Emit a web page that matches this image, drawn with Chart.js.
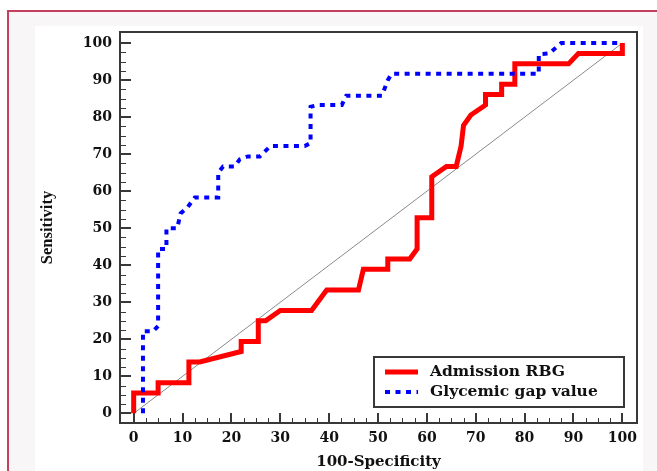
<!DOCTYPE html>
<html>
<head>
<meta charset="utf-8">
<script src="https://cdn.jsdelivr.net/npm/chart.js@4.4.1/dist/chart.umd.min.js"></script>
<style>
  html, body { margin: 0; padding: 0; background: #fff; }
  #page { position: relative; width: 657px; height: 471px; overflow: hidden; }
  #outer { position: absolute; left: 7px; top: 10px; width: 700px; height: 500px; border-left: 2px solid #c4405f; border-top: 2px solid #c4405f; background: #f8f6f7; }
  #inner { position: absolute; left: 35px; top: 26px; width: 608px; height: 460px; background: #fff; }
  #rocChart { position: absolute; left: 0; top: 0; }
</style>
</head>
<body>
<div id="page">
  <div id="outer"></div>
  <div id="inner"></div>
  <canvas id="rocChart" width="657" height="471"></canvas>
</div>
<script>
// ROC curves, values (100-Specificity vs Sensitivity)
const rbgX = [0, 0, 5, 5, 11.3, 11.3, 13.5, 22, 22, 25.5, 25.5, 27, 30, 36.4, 39.5, 46, 47, 52, 52, 56.5, 58, 58, 61, 61, 64, 66, 67, 67.5, 69, 72, 72, 75.3, 75.3, 78, 78, 89, 91, 100, 100];
const rbgY = [0, 5.5, 5.5, 8.3, 8.3, 13.9, 13.9, 16.7, 19.4, 19.4, 25, 25, 27.8, 27.8, 33.3, 33.3, 38.9, 38.9, 41.7, 41.7, 44.4, 52.8, 52.8, 63.9, 66.7, 66.7, 72.2, 77.8, 80.6, 83.3, 86.1, 86.1, 88.9, 88.9, 94.4, 94.4, 97.2, 97.2, 100];

const gapX = [1.9, 1.9, 4, 5, 5, 6.7, 6.7, 8.9, 9.6, 11, 12.5, 17.3, 17.3, 18.3, 20.7, 21.7, 23.4, 25.8, 28, 35, 36.2, 36.2, 37.8, 42.6, 43.5, 50.8, 52, 52.8, 82.9, 82.9, 85, 87.5, 100];
const gapY = [0, 22.2, 22.2, 23.6, 44.4, 44.4, 50, 50, 54, 55.6, 58.3, 58.3, 65, 66.7, 66.7, 68.6, 69.4, 69.4, 72.2, 72.2, 73, 82.8, 83.3, 83.3, 85.8, 85.8, 90, 91.7, 91.7, 97, 97.2, 100, 100];

const refX = [0, 100];
const refY = [0, 100];

const majorTicks = [0, 10, 20, 30, 40, 50, 60, 70, 80, 90, 100];
const minorPerMajor = 4;

const toPoints = (xs, ys) => xs.map((x, i) => ({ x: x, y: ys[i] }));

const allTicks = [];
majorTicks.forEach((v, i) => {
  allTicks.push(v);
  if (i < majorTicks.length - 1) {
    const step = (majorTicks[i + 1] - v) / minorPerMajor;
    for (let k = 1; k < minorPerMajor; k++) allTicks.push(v + step * k);
  }
});
const isMajor = v => majorTicks.includes(v);

const tickFont = { family: 'DejaVu Serif', size: 14, weight: 'bold' };

// frame + inward tick marks
const frameAndTicks = {
  id: 'frameAndTicks',
  afterDatasetsDraw(chart) {
    const { ctx, chartArea: a, scales } = chart;
    const xs = scales.x, ys = scales.y;
    ctx.save();
    ctx.strokeStyle = '#383838';
    ys.ticks.forEach(t => {
      const major = isMajor(t.value);
      ctx.lineWidth = major ? 2 : 1;
      const py = Math.round(ys.getPixelForValue(t.value)) + (major ? 0 : 0.5);
      ctx.beginPath();
      ctx.moveTo(a.left, py);
      ctx.lineTo(a.left + (major ? 11 : 6), py);
      ctx.stroke();
    });
    xs.ticks.forEach(t => {
      const major = isMajor(t.value);
      ctx.lineWidth = major ? 2 : 1;
      const px = Math.round(xs.getPixelForValue(t.value)) + (major ? 0 : 0.5);
      ctx.beginPath();
      ctx.moveTo(px, a.bottom);
      ctx.lineTo(px, a.bottom - (major ? 10 : 5));
      ctx.stroke();
    });
    ctx.lineWidth = 2;
    ctx.strokeRect(a.left, a.top, a.right - a.left, a.bottom - a.top);
    ctx.restore();
  }
};

// boxed legend in the lower right corner of the plot
const boxLegend = {
  id: 'boxLegend',
  afterDraw(chart) {
    const { ctx, chartArea: a } = chart;
    const items = chart.data.datasets.filter(d => d.inLegend);
    const w = 250, h = 50;
    const left = a.right - 13 - w, top = a.bottom - 16 - h;
    ctx.save();
    ctx.fillStyle = '#fff';
    ctx.fillRect(left, top, w, h);
    ctx.strokeStyle = '#383838';
    ctx.lineWidth = 2;
    ctx.strokeRect(left, top, w, h);
    items.forEach((d, i) => {
      const cy = top + 15 + i * 20;
      ctx.strokeStyle = d.borderColor;
      ctx.lineWidth = d.borderWidth;
      ctx.setLineDash(d.borderDash || []);
      ctx.beginPath();
      ctx.moveTo(left + 11, cy);
      ctx.lineTo(left + 44, cy);
      ctx.stroke();
      ctx.setLineDash([]);
      ctx.fillStyle = '#111';
      ctx.font = 'bold 15.5px "DejaVu Serif"';
      ctx.textBaseline = 'middle';
      ctx.textAlign = 'left';
      ctx.fillText(d.label, left + 56, cy);
    });
    ctx.restore();
  }
};

new Chart(document.getElementById('rocChart').getContext('2d'), {
  type: 'line',
  data: {
    datasets: [
      {
        label: 'Admission RBG',
        data: toPoints(rbgX, rbgY),
        borderColor: '#ff0000',
        borderWidth: 5,
        pointRadius: 0,
        tension: 0,
        order: 1,
        inLegend: true
      },
      {
        label: 'Glycemic gap value',
        data: toPoints(gapX, gapY),
        borderColor: '#0000ff',
        borderWidth: 4,
        borderDash: [5, 5.5],
        pointRadius: 0,
        tension: 0,
        order: 0,
        inLegend: true
      },
      {
        label: 'Reference',
        data: toPoints(refX, refY),
        borderColor: '#8a8a8a',
        borderWidth: 1,
        pointRadius: 0,
        order: 2
      }
    ]
  },
  options: {
    responsive: false,
    animation: false,
    layout: { padding: { top: 32, right: 20, left: 0, bottom: 0 } },
    plugins: { legend: { display: false }, tooltip: { enabled: false } },
    scales: {
      x: {
        type: 'linear',
        min: -2.8,
        max: 103,
        afterBuildTicks: scale => { scale.ticks = allTicks.map(v => ({ value: v })); },
        afterFit: scale => { scale.height = 48; },
        grid: { display: false, drawTicks: false },
        border: { display: false },
        ticks: {
          autoSkip: false,
          maxRotation: 0,
          padding: 7,
          color: '#111',
          font: tickFont,
          callback: v => isMajor(v) ? String(v) : ''
        },
        title: {
          display: true,
          text: '100-Specificity',
          color: '#111',
          font: { family: 'DejaVu Serif', size: 15, weight: 'bold' },
          padding: { top: 0, bottom: 0 }
        }
      },
      y: {
        type: 'linear',
        min: -2.6,
        max: 103,
        afterBuildTicks: scale => { scale.ticks = allTicks.map(v => ({ value: v })); },
        afterFit: scale => { scale.width = 120; },
        grid: { display: false, drawTicks: false },
        border: { display: false },
        ticks: {
          autoSkip: false,
          padding: 8,
          color: '#111',
          font: tickFont,
          callback: v => isMajor(v) ? String(v) : ''
        },
        title: {
          display: true,
          text: 'Sensitivity',
          color: '#111',
          font: { family: 'Liberation Serif', size: 16.5, weight: 'bold' },
          padding: { top: 38, bottom: 0 }
        }
      }
    }
  },
  plugins: [frameAndTicks, boxLegend]
});
</script>
</body>
</html>
